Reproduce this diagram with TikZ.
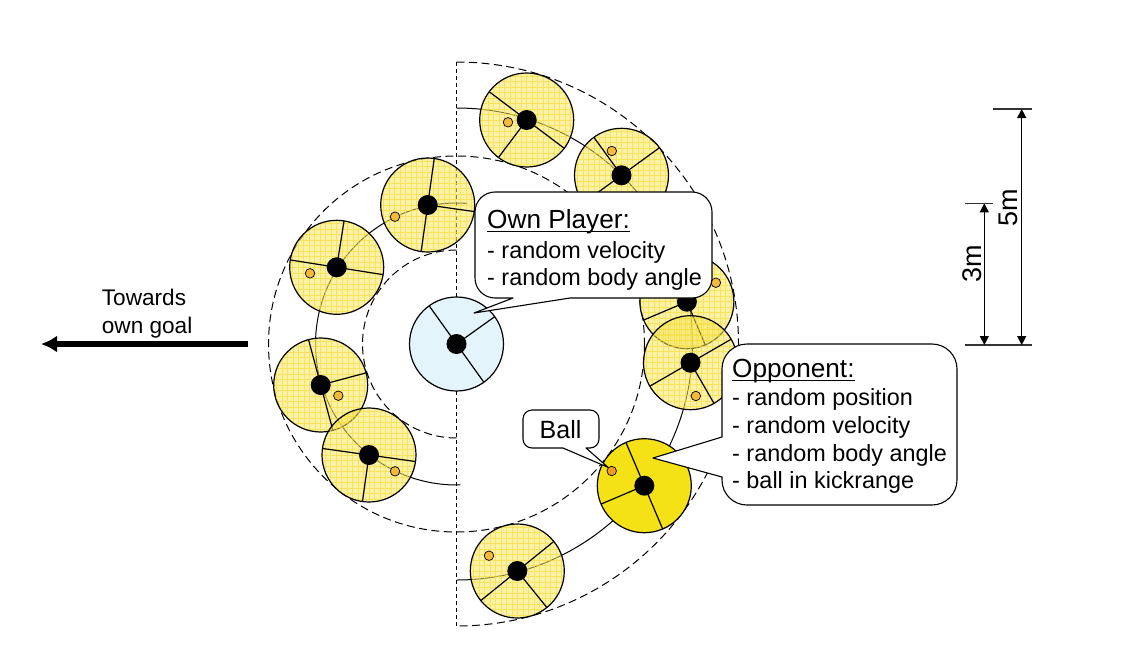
\documentclass[tikz,border=0pt]{standalone}
\usepackage{fontspec}
\setmainfont{Liberation Sans}
\usetikzlibrary{arrows.meta}
\definecolor{plyellow}{HTML}{F8E660}
\definecolor{plgrid}{HTML}{F5DA2A}
\definecolor{oppyellow}{HTML}{F4E216}
\definecolor{ownblue}{HTML}{E3F4FB}
\definecolor{ballor}{HTML}{F5B93C}
\definecolor{balldark}{HTML}{F39A1F}
\tikzset{
  ptoutline/.style={draw=black, line width=1.2pt},
  spoke/.style={draw=black, line width=1.2pt},
  bigdash/.style={draw=black, line width=1pt, dash pattern=on 8pt off 4.5pt},
  smalldash/.style={draw=black, line width=1pt, dash pattern=on 4pt off 3pt},
  track/.style={draw=black, line width=1pt},
  dot/.style={circle, fill=black, inner sep=0pt, minimum size=20pt},
  lball/.style={circle, fill=ballor, draw=black, line width=0.7pt, inner sep=0pt, minimum size=9.5pt},
  dball/.style={circle, fill=balldark, draw=black, line width=0.7pt, inner sep=0pt, minimum size=9.5pt},
  callout/.style={fill=white, draw=black, line width=1.1pt, line join=round},
  txt/.style={inner sep=0pt, text=black, font=\fontsize{23.4}{28}\selectfont},
  headtxt/.style={inner sep=0pt, text=black, font=\fontsize{26.2}{30}\selectfont},
  dimtxt/.style={inner sep=0pt, text=black, font=\fontsize{27}{30}\selectfont, rotate=90},
  goaltxt/.style={inner sep=0pt, text=black, font=\fontsize{22.6}{28}\selectfont},
  goalarrow/.style={draw=black, line width=5.5pt, -{Latex[length=16pt,width=17pt]}},
  dimarrow/.style={draw=black, line width=1.1pt, {Triangle[length=9pt,width=9pt]}-{Triangle[length=9pt,width=9pt]}},
  dimtick/.style={draw=black!80, line width=1.1pt},
  uline/.style={draw=black, line width=1.3pt},
}
\newcommand{\lightplayer}[6]{%
  \begin{scope}[shift={(#2,#3)}]
    \fill[plyellow, fill opacity=0.55] (0,0) circle[radius=47];
    \begin{scope}
      \clip (0,0) circle[radius=47];
      \draw[plgrid, line width=0.45pt, opacity=0.6] (-50,-50) grid[step=5.5pt] (50,50);
    \end{scope}
    \draw[ptoutline] (0,0) circle[radius=47];
    \draw[spoke] (#4:47) -- (0,0) -- ({#4+90}:47) (0,0) -- ({#4-90}:47);
    \node[dot] (#1) at (0,0) {};
    \node[lball] (#1b) at (#5,#6) {};
  \end{scope}}
\begin{document}
\begin{tikzpicture}[x=1pt,y=-1pt]
\fill[white] (0,0) rectangle (1127,665);
\useasboundingbox (0,0) rectangle (1127,665);
\coordinate (c) at (456.5,344);
% guide circles
\coordinate (vtop) at (456.5,62);
\coordinate (vbot) at (456.5,627);
\draw[smalldash] (vtop) -- (vbot);
\draw[bigdash] (c) circle[radius=188];
\draw[bigdash] (vtop) arc[start angle=-90, end angle=90, radius=282];
\draw[bigdash] (456.5,250) arc[start angle=-90, end angle=-270, radius=94];
\draw[track] (c) ++(-85.6:141) arc[start angle=-85.6, end angle=-271.6, radius=141];
\draw[track] (456.5,108) arc[start angle=-90, end angle=90, radius=236];
% players
\lightplayer{p1}{427.7}{205}{8}{-32.7}{11.7}
\lightplayer{p2}{336.7}{267.3}{-81}{-26.7}{6}
\lightplayer{p3}{320.7}{385}{-15}{17.6}{10.7}
\lightplayer{p4}{369}{455}{98}{26}{16.3}
\lightplayer{p5}{526.7}{120}{127}{-18.7}{2.3}
\lightplayer{p6}{621.5}{175.3}{-126}{-9.7}{-24.3}
\lightplayer{p7}{686.9}{301.7}{157}{29}{-19}
\lightplayer{p8}{690.5}{362.7}{60}{5.3}{33.3}
\lightplayer{p10}{517.3}{571}{51}{-28.3}{-15.3}
% opponent
\begin{scope}[shift={(644.3,485.7)}]
  \filldraw[fill=oppyellow, ptoutline] (0,0) circle[radius=47];
  \draw[spoke] (157:47) -- (0,0) -- (247:47) (0,0) -- (67:47);
  \node[dot] (opp) at (0,0) {};
  \node[dball] (oppb) at (-32.6,-14.7) {};
\end{scope}
% own player
\begin{scope}[shift={(456.5,344)}]
  \filldraw[fill=ownblue, ptoutline] (0,0) circle[radius=47];
  \draw[spoke] (-35.6:47) -- (0,0) -- (54.4:47) (0,0) -- (-125.6:47);
  \node[dot] (own) at (0,0) {};
\end{scope}
% own player callout
\coordinate (ownTip) at (474,313);
\draw[callout] (513,298) -- (ownTip) -- (570,298) -- (692,298)
  arc[start angle=90, end angle=0, radius=20] -- (712,212)
  arc[start angle=0, end angle=-90, radius=20] -- (495,192)
  arc[start angle=-90, end angle=-180, radius=20] -- (475,278)
  arc[start angle=-180, end angle=-270, radius=20] -- cycle;
\node[headtxt, anchor=base west] (ownhead) at (487,228) {Own Player:};
\draw[uline] ([yshift=-3.5pt]ownhead.base west) -- ([yshift=-3.5pt]ownhead.base east);
\node[txt, anchor=base west] (ownl1) at (487,258) {- random velocity};
\node[txt, anchor=base west] (ownl2) at (487,285) {- random body angle};
% opponent callout
\coordinate (oppTip) at (653,458);
\draw[callout] (722,437) -- (722,369)
  arc[start angle=180, end angle=270, radius=25] -- (932,344)
  arc[start angle=270, end angle=360, radius=25] -- (957,480)
  arc[start angle=0, end angle=90, radius=25] -- (747,505)
  arc[start angle=90, end angle=180, radius=25] -- (722,477) -- (oppTip) -- cycle;
\node[headtxt, anchor=base west] (opphead) at (732,377) {Opponent:};
\draw[uline] ([yshift=-3.5pt]opphead.base west) -- ([yshift=-3.5pt]opphead.base east);
\node[txt, anchor=base west] (oppl1) at (732,405) {- random position};
\node[txt, anchor=base west] (oppl2) at (732,433) {- random velocity};
\node[txt, anchor=base west] (oppl3) at (732,461) {- random body angle};
\node[txt, anchor=base west] (oppl4) at (732,488) {- ball in kickrange};
% ball callout
\draw[callout] (563,448) -- (oppb.135) -- (586,448) -- (590,448)
  arc[start angle=90, end angle=0, radius=9] -- (599,419)
  arc[start angle=0, end angle=-90, radius=9] -- (532,410)
  arc[start angle=-90, end angle=-180, radius=9] -- (523,439)
  arc[start angle=-180, end angle=-270, radius=9] -- cycle;
\node[inner sep=0pt, text=black, font=\fontsize{25}{28}\selectfont, anchor=base west] (balltxt) at (539.5,438) {Ball};
% towards own goal
\coordinate (goalStart) at (248,344);
\coordinate (goalEnd) at (41,344);
\draw[goalarrow] (goalStart) -- (goalEnd);
\node[goaltxt, anchor=base west] (goal1) at (101.7,305) {Towards};
\node[goaltxt, anchor=base west] (goal2) at (101.7,333) {own goal};
% dimensions
\coordinate (d5top) at (1021.7,109);
\coordinate (d5bot) at (1021.7,345);
\coordinate (d3top) at (984.3,203.3);
\coordinate (d3bot) at (984.3,345);
\coordinate (t5a) at (993,109);
\coordinate (t5b) at (1032,109);
\coordinate (t3a) at (965,203.3);
\coordinate (t3b) at (993,203.3);
\coordinate (tba) at (965,345);
\coordinate (tbb) at (1032,345);
\draw[dimtick] (t5a) -- (t5b);
\draw[dimtick] (t3a) -- (t3b);
\draw[dimtick] (tba) -- (tbb);
\draw[dimarrow] (d5bot) -- (d5top);
\draw[dimarrow] (d3bot) -- (d3top);
\node[dimtxt] (lab5) at (1008,208) {5m};
\node[dimtxt] (lab3) at (971.7,263.3) {3m};
\end{tikzpicture}
\end{document}
